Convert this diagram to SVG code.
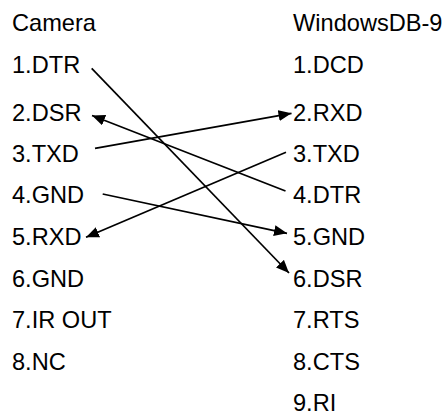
<svg xmlns="http://www.w3.org/2000/svg" width="447" height="415" viewBox="0 0 447 415">
<style>
text{font-family:"Liberation Sans",Arial,sans-serif;font-size:23.6px;fill:#000}
.c line{stroke:#000;stroke-width:1.7;fill:none;marker-end:url(#ah)}
</style>
<defs>
<marker id="ah" markerUnits="userSpaceOnUse" markerWidth="14" markerHeight="12" refX="13" refY="5.5" orient="auto">
<path d="M0,0 L13,5.5 L0,11 z" fill="#000"/>
</marker>
</defs>
<rect width="447" height="415" fill="#fff"/>
<g id="camera">
<g id="cam-title"><text x="12" y="31">Camera</text></g>
<g id="cam-1"><text x="12" y="72.5">1.DTR</text></g>
<g id="cam-2"><text x="12" y="121">2.DSR</text></g>
<g id="cam-3"><text x="12" y="161.5">3.TXD</text></g>
<g id="cam-4"><text x="12" y="203">4.GND</text></g>
<g id="cam-5"><text x="12" y="245">5.RXD</text></g>
<g id="cam-6"><text x="12" y="286.5">6.GND</text></g>
<g id="cam-7"><text x="12" y="328">7.IR OUT</text></g>
<g id="cam-8"><text x="12" y="370">8.NC</text></g>
</g>
<g id="db9">
<g id="db-title"><text x="293" y="31">WindowsDB-9</text></g>
<g id="db-1"><text x="293" y="72.5">1.DCD</text></g>
<g id="db-2"><text x="293" y="121">2.RXD</text></g>
<g id="db-3"><text x="293" y="161.5">3.TXD</text></g>
<g id="db-4"><text x="293" y="203">4.DTR</text></g>
<g id="db-5"><text x="293" y="245">5.GND</text></g>
<g id="db-6"><text x="293" y="286.5">6.DSR</text></g>
<g id="db-7"><text x="293" y="328">7.RTS</text></g>
<g id="db-8"><text x="293" y="370">8.CTS</text></g>
<g id="db-9"><text x="293" y="411">9.RI</text></g>
</g>
<g id="connectors" class="c">
<line x1="91.7" y1="68.3" x2="289" y2="273"/>
<line x1="285.5" y1="191" x2="92" y2="115.5"/>
<line x1="95" y1="148.3" x2="291.5" y2="113.3"/>
<line x1="286" y1="152.2" x2="86" y2="237.3"/>
<line x1="102.7" y1="194" x2="287" y2="233.3"/>
</g>
</svg>
